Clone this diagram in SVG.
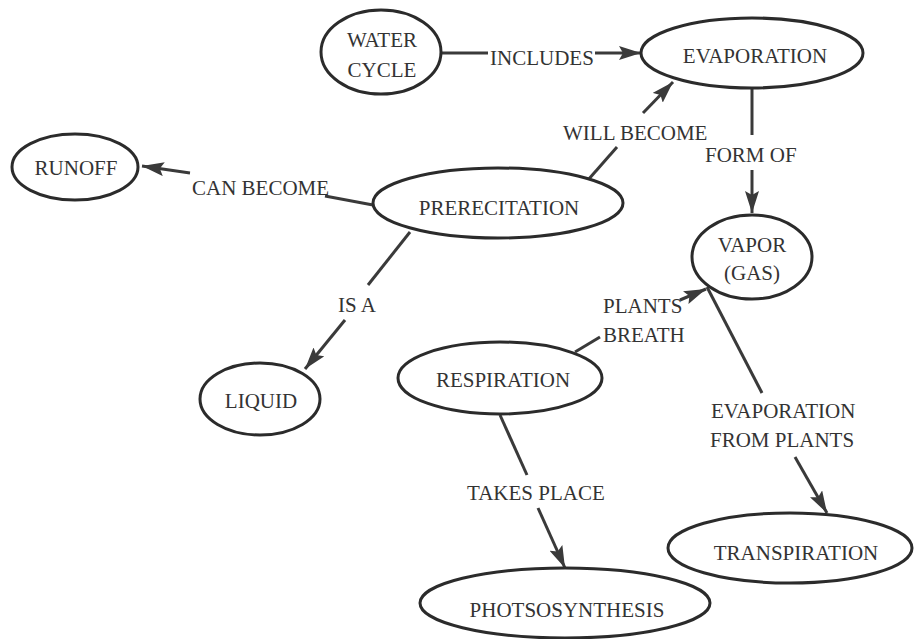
<svg xmlns="http://www.w3.org/2000/svg" width="917" height="639" viewBox="0 0 917 639">
<style>
.n{fill:#fff;stroke:#2b2b2b;stroke-width:3}
text{font-family:'Liberation Serif','Times New Roman',Tinos,'DejaVu Serif',serif;font-size:21px;fill:#333}
.t{text-anchor:middle}
.c{stroke:#3a3a3a;stroke-width:3;fill:none}
</style>
<defs>
<marker id="ah" viewBox="0 0 22 14" refX="22" refY="7" markerWidth="22" markerHeight="14" markerUnits="userSpaceOnUse" orient="auto">
<path d="M0,0 L22,7 L0,14 L4,7 z" fill="#3a3a3a"/>
</marker>
</defs>
<rect width="917" height="639" fill="#fff"/>
<g id="connectors">
<line class="c" x1="441" y1="53" x2="488" y2="53"/>
<line class="c" x1="595" y1="53" x2="641" y2="53" marker-end="url(#ah)"/>
<line class="c" x1="752" y1="89" x2="752" y2="135"/>
<line class="c" x1="752" y1="170" x2="752" y2="213" marker-end="url(#ah)"/>
<line class="c" x1="588" y1="180" x2="617" y2="147"/>
<line class="c" x1="643" y1="113" x2="673" y2="82" marker-end="url(#ah)"/>
<line class="c" x1="373" y1="205" x2="325" y2="196"/>
<line class="c" x1="190" y1="173" x2="142" y2="166" marker-end="url(#ah)"/>
<line class="c" x1="410" y1="232" x2="368" y2="285"/>
<line class="c" x1="345" y1="320" x2="305" y2="369" marker-end="url(#ah)"/>
<line class="c" x1="575" y1="352" x2="600" y2="337"/>
<line class="c" x1="680" y1="300" x2="706" y2="289" marker-end="url(#ah)"/>
<line class="c" x1="707" y1="287" x2="762" y2="393"/>
<line class="c" x1="795" y1="457" x2="827" y2="513" marker-end="url(#ah)"/>
<line class="c" x1="500" y1="415" x2="527" y2="475"/>
<line class="c" x1="538" y1="508" x2="565" y2="568" marker-end="url(#ah)"/>
</g>
<g id="labels">
<text x="490" y="65">INCLUDES</text>
<text x="563" y="140">WILL BECOME</text>
<text x="705" y="162">FORM  OF</text>
<text x="192" y="195">CAN BECOME</text>
<text x="338" y="312">IS A</text>
<text x="603" y="313">PLANTS</text>
<text x="603" y="342">BREATH</text>
<text x="711" y="418">EVAPORATION</text>
<text x="710" y="447">FROM PLANTS</text>
<text x="467" y="500">TAKES PLACE</text>
</g>
<g id="water-cycle"><ellipse class="n" cx="381" cy="52" rx="60" ry="42"/><text class="t" x="382" y="47">WATER</text><text class="t" x="382" y="77">CYCLE</text></g>
<g id="evaporation"><ellipse class="n" cx="752" cy="53" rx="111" ry="35"/><text class="t" x="755" y="63">EVAPORATION</text></g>
<g id="vapor"><ellipse class="n" cx="752" cy="257" rx="60" ry="42"/><text class="t" x="752" y="252">VAPOR</text><text class="t" x="752" y="280">(GAS)</text></g>
<g id="prerecitation"><ellipse class="n" cx="498" cy="203" rx="125" ry="35"/><text class="t" x="499" y="215">PRERECITATION</text></g>
<g id="runoff"><ellipse class="n" cx="75" cy="167" rx="63" ry="33"/><text class="t" x="76" y="175">RUNOFF</text></g>
<g id="liquid"><ellipse class="n" cx="260" cy="399" rx="60" ry="36"/><text class="t" x="261" y="408">LIQUID</text></g>
<g id="respiration"><ellipse class="n" cx="500" cy="378" rx="102" ry="36"/><text class="t" x="503" y="387">RESPIRATION</text></g>
<g id="transpiration"><ellipse class="n" cx="790" cy="548" rx="122" ry="35"/><text class="t" x="796" y="560">TRANSPIRATION</text></g>
<g id="photsosynthesis"><ellipse class="n" cx="565" cy="603" rx="145" ry="35"/><text class="t" x="567" y="617">PHOTSOSYNTHESIS</text></g>
</svg>
